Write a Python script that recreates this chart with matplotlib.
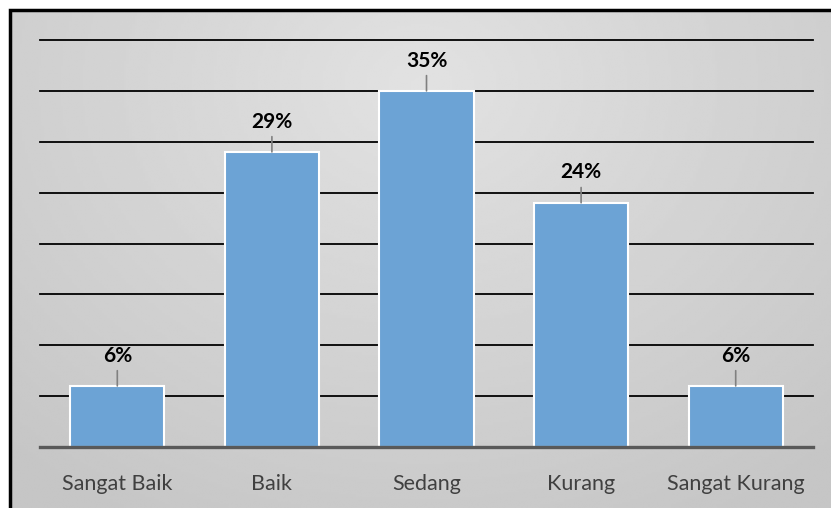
import numpy as np
import matplotlib.pyplot as plt

categories = ["Sangat Baik", "Baik", "Sedang", "Kurang", "Sangat Kurang"]
values = [6, 29, 35, 24, 6]
labels = ["6%", "29%", "35%", "24%", "6%"]

W, H = 831, 508
fig = plt.figure(figsize=(W / 100, H / 100), dpi=100)
fig.patch.set_facecolor("white")

# gradient background inside the frame (frame runs off the right/bottom edge)
bg = fig.add_axes([10 / W, 0, 1 - 10 / W, 1 - 10 / H])
bg.set_axis_off()
yy, xx = np.mgrid[0:1:200j, 0:1:300j]
r = np.sqrt(((xx - 0.5) / 0.75) ** 2 + ((yy - 0.15) / 1.0) ** 2)
shade = 0.885 - 0.11 * np.clip(r, 0, 1)
bg.imshow(shade, cmap="gray", vmin=0, vmax=1, aspect="auto",
          extent=[0, 1, 1, 0], interpolation="bilinear")
bg.plot([0, 0, 1], [0, 1, 1], transform=bg.transAxes, color="black",
        lw=2.5, clip_on=False, solid_joinstyle="miter")

ax = fig.add_axes([40 / W, (H - 447) / H, (813 - 40) / W, (447 - 40) / H])
ax.set_facecolor("none")

x = np.arange(len(categories))
ax.bar(x, values, width=0.61, color="#6CA3D5", edgecolor="white", lw=1.5, zorder=3)

ax.set_xlim(-0.5, len(categories) - 0.5)
ax.set_ylim(0, 40)
ax.set_yticks(np.arange(5, 41, 5))
ax.yaxis.grid(True, color="black", lw=1.3)
for gl in ax.get_ygridlines():
    gl.set_clip_on(False)
ax.set_axisbelow(True)
ax.tick_params(axis="y", left=False, labelleft=False)
ax.tick_params(axis="x", bottom=False, pad=16)
ax.set_xticks(x)
ax.set_xticklabels(categories, fontfamily="Lato", fontsize=15.5, color="#404040")

for s in ["top", "right", "left"]:
    ax.spines[s].set_visible(False)
ax.spines["bottom"].set_color("#595959")
ax.spines["bottom"].set_linewidth(2.4)
ax.spines["bottom"].set_zorder(4)

# data labels with leader lines
for i, v in enumerate(values):
    ax.annotate("", xy=(i, v), xytext=(0, 11), textcoords="offset points",
                arrowprops=dict(arrowstyle="-", color="#808080", lw=1.2,
                                shrinkA=0, shrinkB=0), zorder=5)
    ax.annotate(labels[i], xy=(i, v), xytext=(0, 17.5), textcoords="offset points",
                ha="center", va="baseline", fontfamily="Lato", fontweight="bold",
                fontsize=15, color="black", zorder=5)

fig.savefig("out.png", dpi=100)
